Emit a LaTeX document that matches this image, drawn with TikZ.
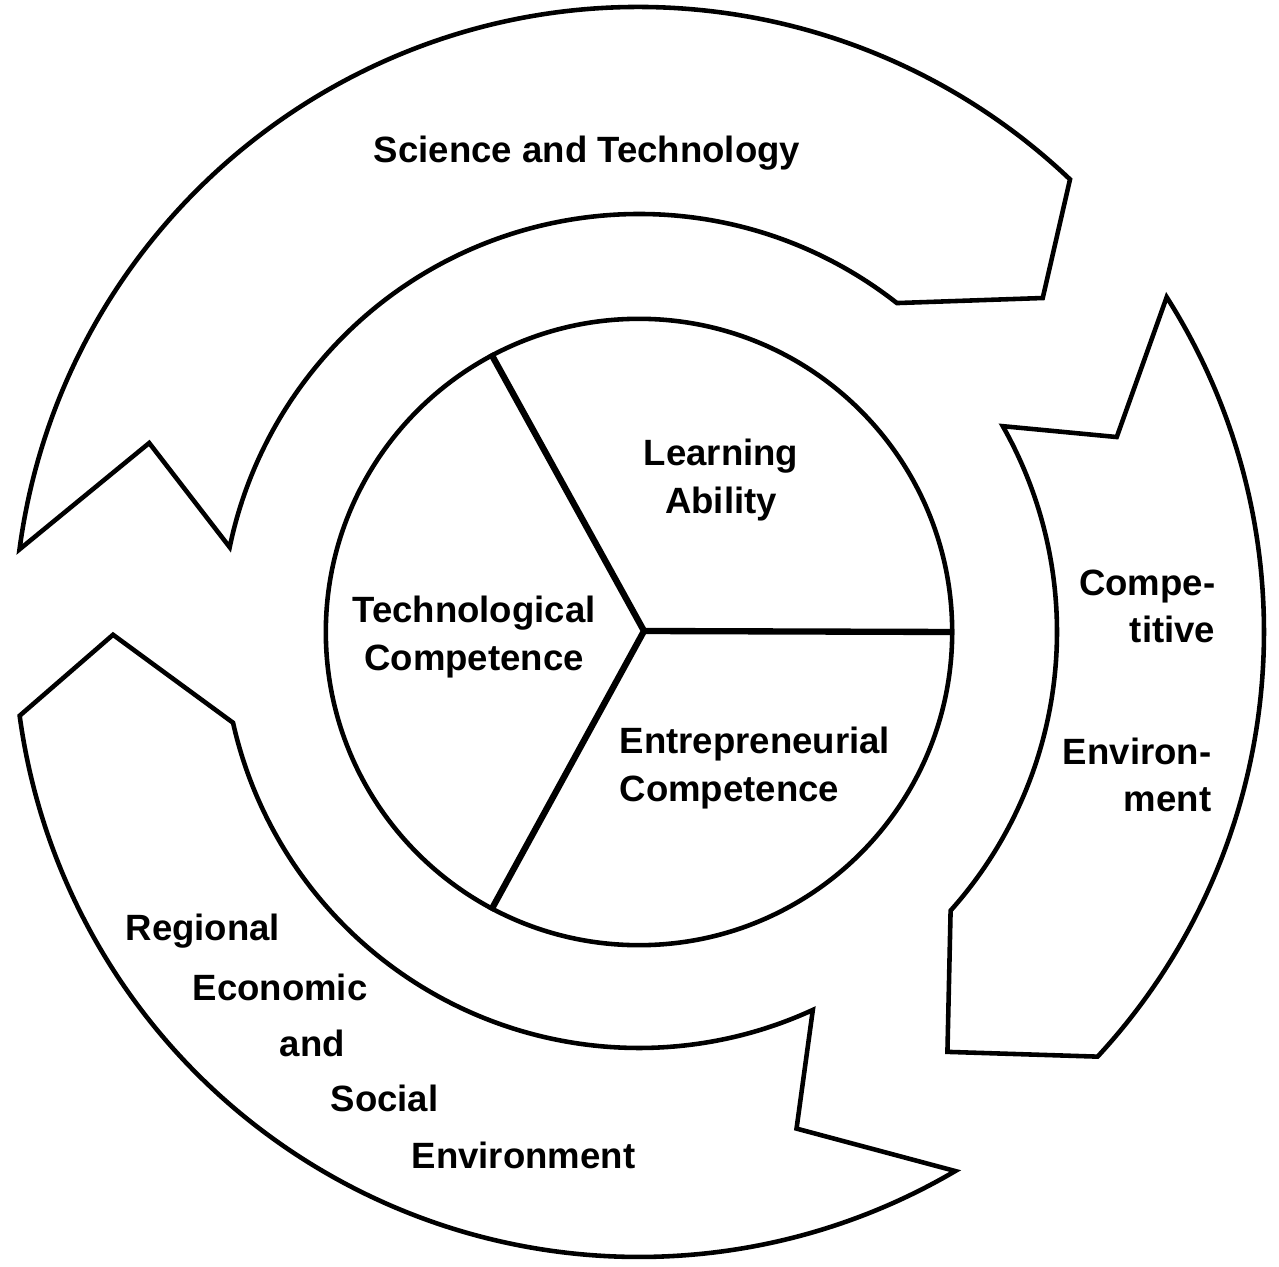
\documentclass[tikz,border=0pt]{standalone}
\usepackage{fontspec}
\setmainfont{Liberation Sans}
\begin{document}
\begin{tikzpicture}[x=0.01cm,y=0.01cm]
		\tikzstyle{band}=[draw=black,line width=1.3pt,line join=miter]
		\tikzstyle{core}=[circle,draw=black,line width=1.3pt,minimum size=6.26cm,inner sep=0pt]
		\tikzstyle{divider}=[draw,line width=1.8pt]
		\tikzstyle{caption}=[font=\bfseries\fontsize{10.4pt}{13.4pt}\selectfont,inner sep=0pt]
		\useasboundingbox (0,0) rectangle (1279,1266);
		\begin{scope}[shift={(639,634)}]
			\path[band] (172.4:625) arc[start angle=172.4,end angle=46.4,radius=625] -- (39.6:524) -- (51.9:418) arc[start angle=51.9,end angle=168.3,radius=418] -- (158.9:525) -- cycle;
			\path[band] (32.4:625) arc[start angle=32.4,end angle=-42.8,radius=625] -- (-53.7:521) -- (-41.8:418) arc[start angle=-41.8,end angle=29.5,radius=418] -- (22.2:516) -- cycle;
			\path[band] (-59.6:625) arc[start angle=-59.6,end angle=-172.3,radius=625] -- (180.3:526) -- (-167.4:416) arc[start angle=-167.4,end angle=-65.3,radius=416] -- (-72.4:521) -- cycle;
			\node [core] (core) at (0,0) {};
			\coordinate (hub) at (5,1);
			\path[divider] (hub) -- (core.118.5);
			\path[divider] (hub) -- (core.0);
			\path[divider] (hub) -- (core.242);
			\node [caption] (sci) at (-52,479) {Science and Technology};
			\node [caption,align=center] (learn) at (82,152) {Learning\\Ability};
			\node [caption,align=center] (techc) at (-165,-5) {Technological\\Competence};
			\node [caption,align=left,anchor=west] (entc) at (-20,-136) {Entrepreneurial\\Competence};
			\node [caption,align=right,anchor=east] (comp) at (577,26) {Compe-\\titive};
			\node [caption,align=right,anchor=east] (envr) at (573,-143) {Environ-\\ment};
			\node [caption,anchor=west] (r1) at (-514,-299) {Regional};
			\node [caption,anchor=west] (r2) at (-447,-355) {Economic};
			\node [caption,anchor=west] (r3) at (-360,-411) {and};
			\node [caption,anchor=west] (r4) at (-309,-466) {Social};
			\node [caption,anchor=west] (r5) at (-228,-523) {Environment};
		\end{scope}
\end{tikzpicture}
\end{document}
